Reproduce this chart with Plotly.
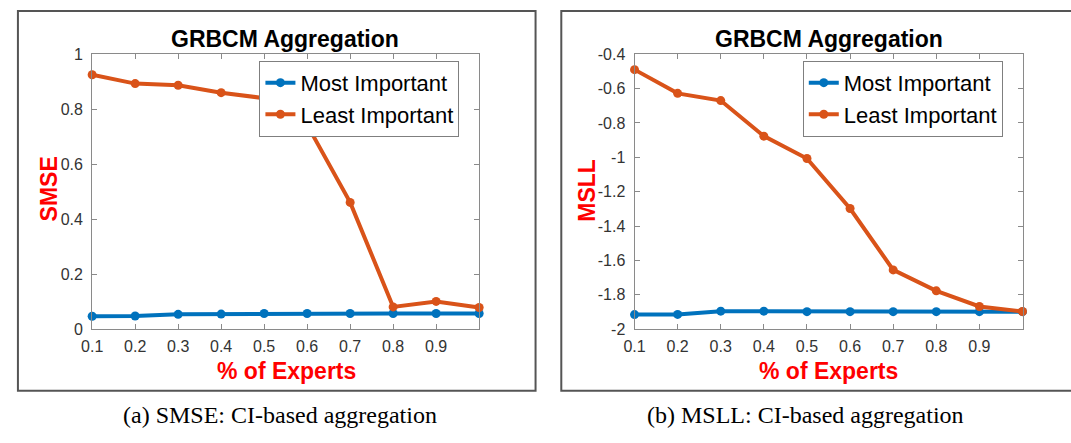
import plotly.graph_objects as go

W, H = 1071, 443

experts = [0.1, 0.2, 0.3, 0.4, 0.5, 0.6, 0.7, 0.8, 0.9, 1.0]
smse_most = [0.047, 0.048, 0.054, 0.055, 0.057, 0.057, 0.057, 0.057, 0.057, 0.057]
smse_least = [0.925, 0.893, 0.887, 0.860, 0.840, 0.743, 0.461, 0.081, 0.101, 0.079]
msll_most = [-1.915, -1.914, -1.895, -1.895, -1.898, -1.898, -1.898, -1.898, -1.898, -1.898]
msll_least = [-0.490, -0.628, -0.670, -0.877, -1.007, -1.298, -1.655, -1.777, -1.868, -1.897]

x_ticks = [0.1, 0.2, 0.3, 0.4, 0.5, 0.6, 0.7, 0.8, 0.9]
x_ticklabels = ["0.1", "0.2", "0.3", "0.4", "0.5", "0.6", "0.7", "0.8", "0.9"]
smse_ticks = [0, 0.2, 0.4, 0.6, 0.8, 1]
smse_ticklabels = ["0", "0.2", "0.4", "0.6", "0.8", "1"]
msll_ticks = [-2, -1.8, -1.6, -1.4, -1.2, -1, -0.8, -0.6, -0.4]
msll_ticklabels = ["-2", "-1.8", "-1.6", "-1.4", "-1.2", "-1", "-0.8", "-0.6", "-0.4"]

series_names = ["Most Important", "Least Important"]
BLUE = "#0072BD"
ORANGE = "#D95319"

def px(x):
    return x / W

def py(y):
    return 1 - y / H

fig = go.Figure()

for name, vals, color in [(series_names[0], smse_most, BLUE), (series_names[1], smse_least, ORANGE)]:
    fig.add_trace(go.Scatter(x=experts, y=vals, name=name, mode="lines+markers",
                             line=dict(color=color, width=4), marker=dict(color=color, size=9),
                             xaxis="x", yaxis="y", legend="legend", cliponaxis=False))
for name, vals, color in [(series_names[0], msll_most, BLUE), (series_names[1], msll_least, ORANGE)]:
    fig.add_trace(go.Scatter(x=experts, y=vals, name=name, mode="lines+markers",
                             line=dict(color=color, width=4), marker=dict(color=color, size=9),
                             xaxis="x2", yaxis="y2", legend="legend2", cliponaxis=False))

AX_COLOR = "#8a8a8a"
TICK_FONT = dict(family="Liberation Sans, Arial, sans-serif", size=16, color="#333333")

def xaxis(domain, anchor):
    return dict(domain=domain, anchor=anchor, range=[0.1, 1.0], tickvals=x_ticks,
                ticktext=x_ticklabels, showgrid=False, zeroline=False, showline=True,
                linecolor=AX_COLOR, linewidth=1, mirror="ticks", ticks="inside",
                ticklen=5, tickcolor=AX_COLOR, tickfont=TICK_FONT, fixedrange=True,
                ticklabelstandoff=3)

def yaxis(domain, anchor, rng, tv, tt):
    return dict(domain=domain, anchor=anchor, range=rng, tickvals=tv, ticktext=tt,
                showgrid=False, zeroline=False, showline=True, linecolor=AX_COLOR,
                linewidth=1, mirror="ticks", ticks="inside", ticklen=5, tickcolor=AX_COLOR,
                tickfont=TICK_FONT, fixedrange=True, ticklabelstandoff=5)

LEG_FONT = dict(family="Liberation Sans, Arial, sans-serif", size=22, color="black")

fig.update_layout(
    width=W, height=H,
    margin=dict(l=0, r=0, t=0, b=0),
    paper_bgcolor="white", plot_bgcolor="white",
    showlegend=True,
    xaxis=xaxis([px(82), px(473)], "y"),
    yaxis=yaxis([py(334), py(48)], "x", [0, 1], smse_ticks, smse_ticklabels),
    xaxis2=xaxis([px(630), px(1022)], "y2"),
    yaxis2=yaxis([py(334), py(48)], "x2", [-2, -0.4], msll_ticks, msll_ticklabels),
    legend=dict(x=px(251), y=py(55), xanchor="left", yanchor="top", bgcolor="white",
                bordercolor="#7f7f7f", borderwidth=1, font=LEG_FONT, itemwidth=30,
                tracegroupgap=0),
    legend2=dict(x=px(800), y=py(55), xanchor="left", yanchor="top", bgcolor="white",
                 bordercolor="#7f7f7f", borderwidth=1, font=LEG_FONT, itemwidth=30,
                 tracegroupgap=0),
)

TITLE_FONT = dict(family="Liberation Sans, Arial, sans-serif", size=23, color="black")
LABEL_FONT = dict(family="Liberation Sans, Arial, sans-serif", size=23, color="#ff0000")
CAP_FONT = dict(family="Liberation Serif, Times New Roman, serif", size=24, color="black")

annos = [
    dict(text="<b>GRBCM Aggregation</b>", x=px(277), y=py(32), font=TITLE_FONT),
    dict(text="<b>GRBCM Aggregation</b>", x=px(826), y=py(32), font=TITLE_FONT),
    dict(text="<b>% of Experts</b>", x=px(278), y=py(377), font=LABEL_FONT),
    dict(text="<b>% of Experts</b>", x=px(826), y=py(377), font=LABEL_FONT),
    dict(text="<b>SMSE</b>", x=px(38), y=py(188), font=LABEL_FONT, textangle=-90),
    dict(text="<b>MSLL</b>", x=px(582), y=py(190), font=LABEL_FONT, textangle=-90),
    dict(text="(a) SMSE: CI-based aggregation", x=px(272), y=py(423), font=CAP_FONT),
    dict(text="(b) MSLL: CI-based aggregation", x=px(803), y=py(423), font=CAP_FONT),
]
for a in annos:
    fig.add_annotation(xref="paper", yref="paper", showarrow=False,
                       xanchor="center", yanchor="middle", **a)

fig.add_shape(type="rect", xref="paper", yref="paper", x0=px(7), x1=px(530), y0=py(398), y1=py(3),
              line=dict(color="#555555", width=2), layer="below")
fig.add_shape(type="rect", xref="paper", yref="paper", x0=px(556), x1=px(1080), y0=py(398), y1=py(3),
              line=dict(color="#555555", width=2), layer="below")

fig.write_html("out.html")
